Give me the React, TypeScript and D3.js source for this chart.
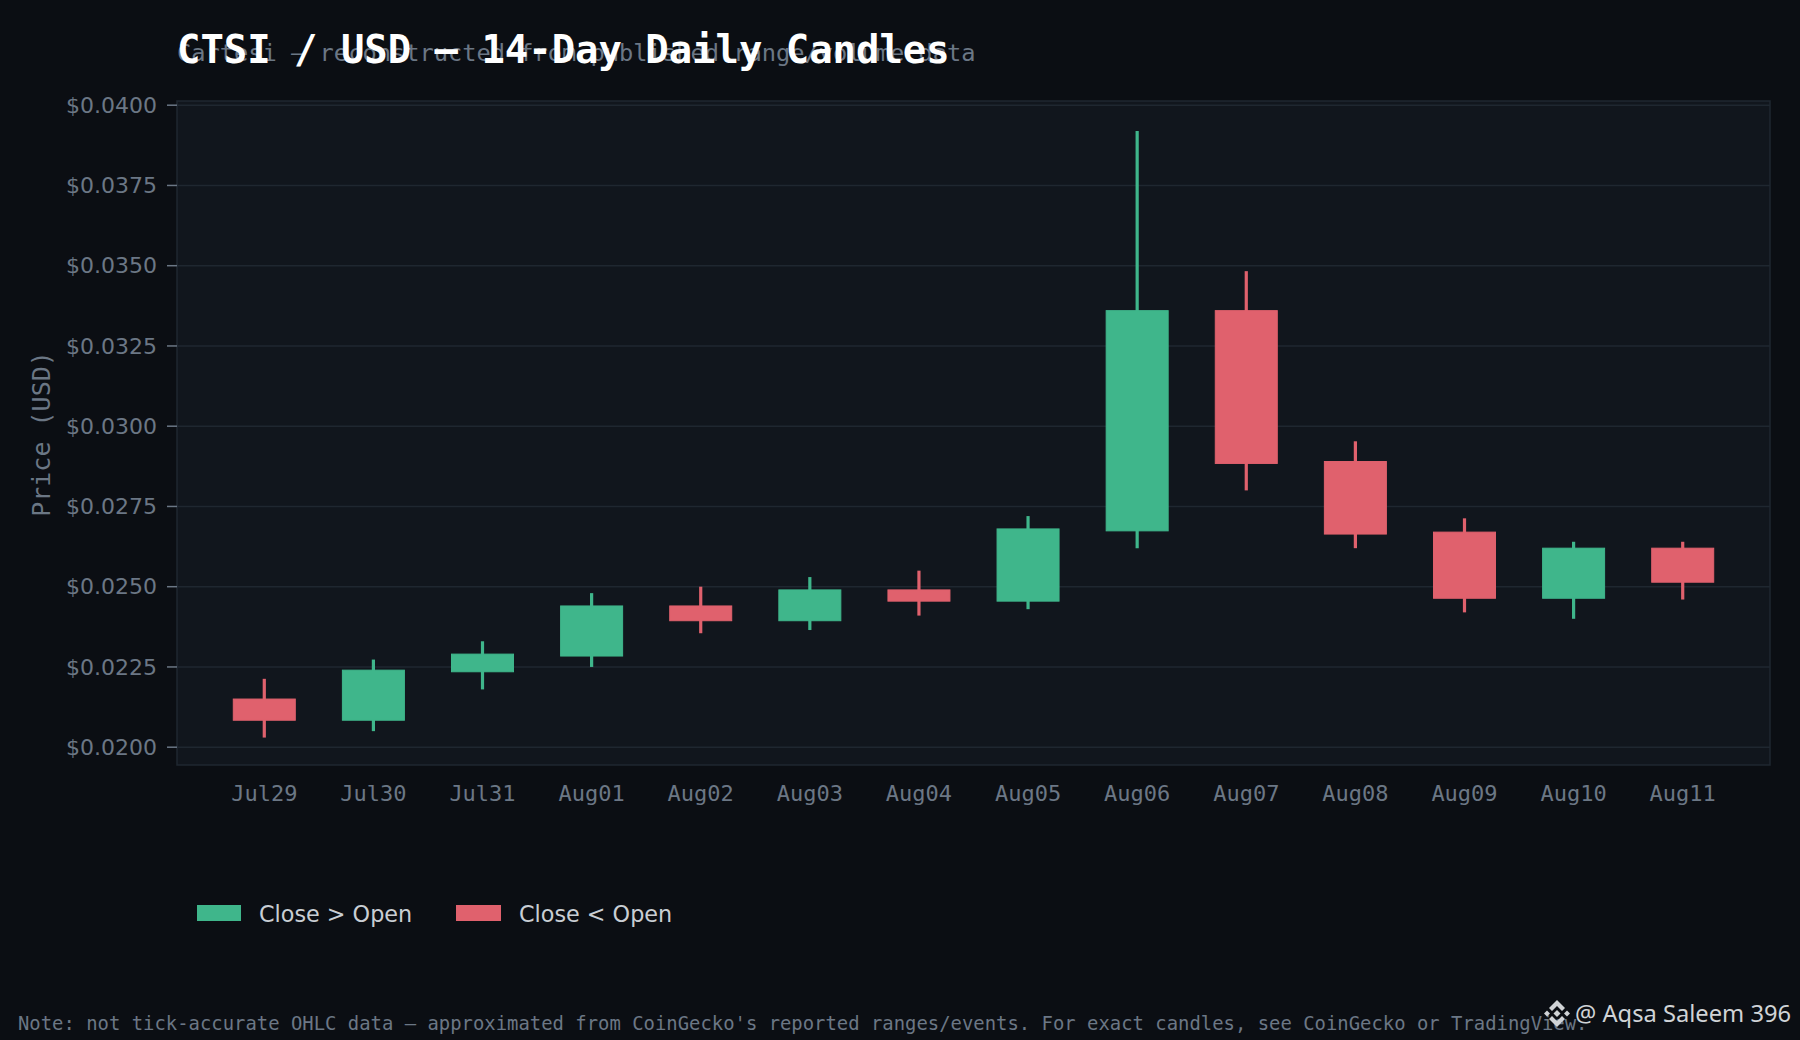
import React from "react";
import * as d3 from "d3";

const dates = ["Jul29","Jul30","Jul31","Aug01","Aug02","Aug03","Aug04","Aug05","Aug06","Aug07","Aug08","Aug09","Aug10","Aug11"];
const opens = [0.0215,0.02084,0.02235,0.02284,0.0244,0.02394,0.0249,0.02455,0.02674,0.0336,0.0289,0.0267,0.02464,0.0262];
const closes = [0.02084,0.0224,0.0229,0.0244,0.02394,0.0249,0.02455,0.0268,0.0336,0.02884,0.02664,0.02464,0.0262,0.02514];
const highs = [0.02213,0.02273,0.0233,0.0248,0.0250,0.0253,0.0255,0.0272,0.0392,0.03483,0.02953,0.02713,0.0264,0.0264];
const lows = [0.0203,0.0205,0.0218,0.0225,0.02355,0.02365,0.0241,0.0243,0.0262,0.0280,0.0262,0.0242,0.0240,0.0246];
const yTicks = [0.02,0.0225,0.025,0.0275,0.03,0.0325,0.035,0.0375,0.04];

const W = 1800, H = 1040;
const L = 177, R = 1770, T = 101, B = 765;
const UP = "#3fb68b", DOWN = "#e0616d";
const MONO = "'DejaVu Sans Mono', monospace";
const SANS = "'DejaVu Sans', sans-serif";

export default function App() {
  const x = d3.scaleLinear().domain([-0.8, 13.8]).range([L, R]);
  const y = d3.scaleLinear().domain([0.02, 0.04]).range([747.2, 105.2]);
  const bw = 62;
  return (
    <svg width={W} height={H} viewBox={`0 0 ${W} ${H}`} style={{ position: "absolute", left: 0, top: 0, display: "block" }}>
      <rect width={W} height={H} fill="#0b0e13" />
      <rect x={L} y={T} width={R - L} height={B - T} fill="#11161d" stroke="#1f2730" strokeWidth={1.5} />
      {yTicks.map((t) => (
        <g key={t}>
          <line x1={L} x2={R} y1={y(t)} y2={y(t)} stroke="#1f2730" strokeWidth={1.5} />
          <line x1={L - 10} x2={L} y1={y(t)} y2={y(t)} stroke="#6b7785" strokeWidth={1.5} />
          <text x={157} y={y(t)} dy="0.35em" textAnchor="end" fontFamily={SANS} fontSize={22} fill="#6b7785">
            {"$" + t.toFixed(4)}
          </text>
        </g>
      ))}
      {dates.map((d, i) => {
        const up = closes[i] >= opens[i];
        const c = up ? UP : DOWN;
        const top = y(Math.max(opens[i], closes[i]));
        const bot = y(Math.min(opens[i], closes[i]));
        return (
          <g key={d}>
            <line x1={x(i)} x2={x(i)} y1={y(highs[i])} y2={y(lows[i])} stroke={c} strokeWidth={3.2} />
            <rect x={x(i) - bw / 2} y={top} width={bw} height={bot - top} fill={c} stroke={c} strokeWidth={1} />
            <text x={x(i)} y={800.5} textAnchor="middle" fontFamily={MONO} fontSize={22} fill="#6b7785">{d}</text>
          </g>
        );
      })}
      <text transform="translate(50,434) rotate(-90)" textAnchor="middle" fontFamily={MONO} fontSize={25} fill="#6b7785">Price (USD)</text>
      <text x={177} y={60.7} fontFamily={MONO} fontSize={23.7} fill="#6b7785">
        {"Cartesi – reconstructed from published range/volume data"}
      </text>
      <text x={177} y={62.5} fontFamily={MONO} fontWeight={700} fontSize={38.9} fill="#ffffff">CTSI / USD — 14-Day Daily Candles</text>
      <rect x={197} y={905} width={44} height={16} fill={UP} />
      <text x={259} y={921.5} fontFamily={SANS} fontSize={22.3} fill="#c9ced4">{"Close > Open"}</text>
      <rect x={456} y={905} width={45} height={16} fill={DOWN} />
      <text x={519} y={921.5} fontFamily={SANS} fontSize={22.3} fill="#c9ced4">{"Close < Open"}</text>
      <text x={18} y={1030} fontFamily={MONO} fontSize={18.9} fill="#6b7785">
        Note: not tick-accurate OHLC data — approximated from CoinGecko's reported ranges/events. For exact candles, see CoinGecko or TradingView.
      </text>
      <g fill="#d0d3d6">
        <path d="M1557 1000 L1565 1008 L1562 1011 L1557 1006 L1552 1011 L1549 1008Z" />
        <path d="M1557 1027 L1565 1019 L1562 1016 L1557 1021 L1552 1016 L1549 1019Z" />
        <path d="M1557 1010 L1560.5 1013.5 L1557 1017 L1553.5 1013.5Z" />
        <path d="M1547 1010.5 L1550 1013.5 L1547 1016.5 L1544 1013.5Z" />
        <path d="M1567 1010.5 L1570 1013.5 L1567 1016.5 L1564 1013.5Z" />
      </g>
      <text x={1575} y={1022} fontFamily="'Noto Sans', sans-serif" fontSize={23.7} fill="#d0d3d6">@ Aqsa Saleem 396</text>
    </svg>
  );
}
